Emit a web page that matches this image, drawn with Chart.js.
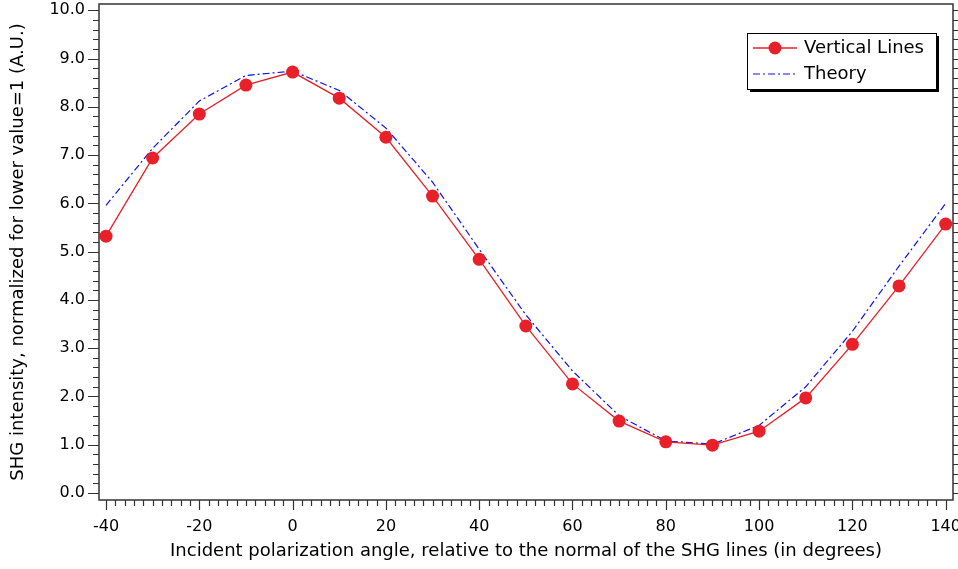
<!DOCTYPE html>
<html lang="en">
<head>
<meta charset="UTF-8">
<title>SHG intensity vs polarization angle</title>
<script src="https://cdn.jsdelivr.net/npm/chart.js@4.4.0/dist/chart.umd.min.js"></script>
<style>
  html, body { margin: 0; padding: 0; background: #fff; }
  #wrap { width: 958px; height: 569px; position: relative; }
</style>
</head>
<body>
<div id="wrap"><canvas id="shg"></canvas></div>
<script>
const angles = [-40, -30, -20, -10, 0, 10, 20, 30, 40, 50, 60, 70, 80, 90, 100, 110, 120, 130, 140];
const verticalLines = [5.32, 6.94, 7.85, 8.45, 8.72, 8.18, 7.37, 6.15, 4.84, 3.46, 2.26, 1.49, 1.06, 0.99, 1.28, 1.97, 3.08, 4.29, 5.57];
const theory = [5.96, 7.14, 8.12, 8.65, 8.74, 8.34, 7.56, 6.44, 5.05, 3.69, 2.53, 1.60, 1.08, 1.01, 1.40, 2.20, 3.35, 4.70, 6.00];
const xTickLabels = [-40, -20, 0, 20, 40, 60, 80, 100, 120, 140];
const yTickLabels = [0, 1, 2, 3, 4, 5, 6, 7, 8, 9, 10];

const RED = '#e8202a';
const BLUE = '#1010ee';
const AXIS = '#333';
const FONT = '"DejaVu Sans", sans-serif';

// frame, minor/major tick marks and the boxed legend
const decor = {
  id: 'decor',
  afterDraw(chart) {
    const ctx = chart.ctx;
    const a = chart.chartArea;
    const xs = chart.scales.x, ys = chart.scales.y;
    ctx.save();
    ctx.strokeStyle = AXIS;
    ctx.lineWidth = 1.5;
    ctx.strokeRect(a.left, a.top, a.right - a.left, a.bottom - a.top);

    ctx.lineWidth = 1.2;
    ctx.beginPath();
    for (let v = -40; v <= 140; v += 2) {
      const px = Math.round(xs.getPixelForValue(v)) + 0.5;
      const len = v % 20 === 0 ? 10 : 6;
      ctx.moveTo(px, a.bottom);
      ctx.lineTo(px, a.bottom + len);
    }
    for (let i = 0; i <= 50; i++) {
      const py = Math.round(ys.getPixelForValue(i / 5)) + 0.5;
      const len = i % 5 === 0 ? 11 : 6;
      ctx.moveTo(a.left, py);
      ctx.lineTo(a.left - len, py);
      ctx.moveTo(a.right, py);
      ctx.lineTo(a.right + 6, py);
    }
    ctx.stroke();

    // legend box
    const bx = 747, by = 33, bw = 189, bh = 56;
    ctx.fillStyle = '#000';
    ctx.fillRect(bx + 3, by + 3, bw, bh);
    ctx.fillStyle = '#fff';
    ctx.fillRect(bx, by, bw, bh);
    ctx.lineWidth = 1;
    ctx.strokeStyle = '#000';
    ctx.strokeRect(bx + 0.5, by + 0.5, bw, bh);

    ctx.lineWidth = 1.5;
    ctx.strokeStyle = RED;
    ctx.beginPath();
    ctx.moveTo(bx + 6, by + 15); ctx.lineTo(bx + 50, by + 15);
    ctx.stroke();
    ctx.fillStyle = RED;
    ctx.beginPath();
    ctx.arc(bx + 28, by + 15, 6.5, 0, Math.PI * 2);
    ctx.fill();

    ctx.strokeStyle = BLUE;
    ctx.lineWidth = 1.2;
    ctx.setLineDash([7, 3, 2, 3]);
    ctx.beginPath();
    ctx.moveTo(bx + 6, by + 41); ctx.lineTo(bx + 50, by + 41);
    ctx.stroke();
    ctx.setLineDash([]);

    ctx.fillStyle = '#000';
    ctx.font = '18px ' + FONT;
    ctx.textBaseline = 'middle';
    ctx.fillText(chart.data.datasets[0].label, bx + 57, by + 15);
    ctx.fillText(chart.data.datasets[1].label, bx + 57, by + 41);
    ctx.restore();
  }
};

new Chart(document.getElementById('shg'), {
  type: 'line',
  data: {
    labels: angles,
    datasets: [
      {
        label: 'Vertical Lines',
        data: angles.map((x, i) => ({ x: x, y: verticalLines[i] })),
        borderColor: RED,
        backgroundColor: RED,
        borderWidth: 1.3,
        pointRadius: 6.5,
        pointBorderWidth: 0,
        tension: 0
      },
      {
        label: 'Theory',
        data: angles.map((x, i) => ({ x: x, y: theory[i] })),
        borderColor: BLUE,
        borderWidth: 1.2,
        borderDash: [7, 3, 2, 3],
        pointRadius: 0,
        tension: 0
      }
    ]
  },
  options: {
    responsive: true,
    maintainAspectRatio: false,
    animation: false,
    layout: { autoPadding: false, padding: { top: 4, right: 5, left: 0, bottom: 0 } },
    plugins: { legend: { display: false }, tooltip: { enabled: false } },
    scales: {
      x: {
        type: 'linear',
        min: -41.5,
        max: 141.57,
        grid: { display: false, drawTicks: false },
        border: { display: false },
        afterBuildTicks: s => { s.ticks = xTickLabels.map(v => ({ value: v })); },
        afterFit: s => { s.height = 69; s.paddingLeft = 0; s.paddingRight = 0; },
        ticks: {
          autoSkip: false,
          maxRotation: 0,
          padding: 17,
          color: '#000',
          font: { family: FONT, size: 16 }
        },
        title: {
          display: true,
          text: 'Incident polarization angle, relative to the normal of the SHG lines (in degrees)',
          color: '#000',
          font: { family: FONT, size: 18 },
          padding: { top: 1, bottom: 7 }
        }
      },
      y: {
        min: -0.145,
        max: 10.13,
        grid: { display: false, drawTicks: false },
        border: { display: false },
        afterBuildTicks: s => { s.ticks = yTickLabels.map(v => ({ value: v })); },
        afterFit: s => { s.width = 99; s.paddingTop = 0; s.paddingBottom = 0; },
        ticks: {
          autoSkip: false,
          padding: 14,
          color: '#000',
          font: { family: FONT, size: 16 },
          callback: v => Number(v).toFixed(1)
        },
        title: {
          display: true,
          text: 'SHG intensity, normalized for lower value=1 (A.U.)',
          color: '#000',
          font: { family: FONT, size: 18 },
          padding: { top: 8, bottom: 4 }
        }
      }
    }
  },
  plugins: [decor]
});
</script>
</body>
</html>
